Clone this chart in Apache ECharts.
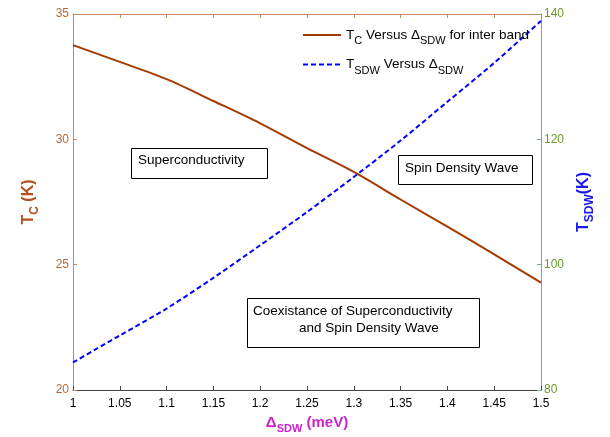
<!DOCTYPE html>
<html>
<head>
<meta charset="utf-8">
<script src="https://cdn.jsdelivr.net/npm/echarts@6/dist/echarts.min.js"></script>
<style>
  html, body { margin: 0; padding: 0; background: #fff; }
  #main { width: 610px; height: 437px; }
</style>
</head>
<body>
<div id="main"></div>
<script>
// Delta_SDW (meV)
const deltaSdw = [1.0, 1.05, 1.1, 1.15, 1.2, 1.25, 1.3, 1.35, 1.4, 1.45, 1.5];
// Tc (K), left axis
const tcValues = [33.76, 33.09, 32.40, 31.53, 30.64, 29.65, 28.70, 27.60, 26.52, 25.41, 24.28];
// T_SDW (K), right axis
const tsdwValues = [84.4, 88.7, 93.0, 97.9, 103.1, 108.4, 114.0, 119.8, 126.0, 132.2, 138.9];

const font = 'Liberation Sans, Arial, sans-serif';
const brownLine = '#c8875f';
const brownText = '#b86a3a';
const greenLine = '#72b072';
const greenText = '#6a9a2c';

function pairs(xs, ys) {
  return xs.map((x, i) => [x, ys[i]]);
}

let chart = echarts.init(document.getElementById('main'), null, { renderer: 'canvas' });

let subRich = (color, size, subSize, weight, drop) => ({
  n: { fontFamily: font, fontSize: size, fontWeight: weight, color: color },
  s: { fontFamily: font, fontSize: subSize, fontWeight: weight, color: color, padding: [drop, 0, 0, 0] }
});

let options = {
  animation: false,
  textStyle: { fontFamily: font },
  grid: { left: 73, right: 69, top: 14, bottom: 47, containLabel: false, outerBoundsMode: 'none' },
  legend: {
    orient: 'vertical',
    left: 297,
    top: 23,
    itemWidth: 38,
    itemHeight: 14,
    itemGap: 11,
    data: ['tc', 'tsdw'],
    itemStyle: { opacity: 0 },
    formatter: function (name) {
      if (name === 'tc') {
        return '{n|T}{s|C}{n| Versus Δ}{s|SDW}{n| for inter band}';
      }
      return '{n|T}{s|SDW}{n| Versus Δ}{s|SDW}';
    },
    textStyle: {
      rich: subRich('#000', 13.5, 11, 'normal', 12)
    }
  },
  xAxis: [
    {
      type: 'value',
      min: 1,
      max: 1.5,
      interval: 0.05,
      position: 'bottom',
      name: '{n|Δ}{s|SDW}{n| (meV)}',
      nameLocation: 'middle',
      nameGap: 21,
      nameTextStyle: { rich: subRich('#cc22cc', 15, 11, 'bold', 12) },
      axisLine: { lineStyle: { color: '#444', width: 1 } },
      axisTick: { inside: true, length: 4, lineStyle: { color: '#444' } },
      axisLabel: { color: '#000', fontSize: 12, fontFamily: font, margin: 8 },
      splitLine: { show: false }
    },
    {
      type: 'value',
      min: 1,
      max: 1.5,
      interval: 0.05,
      position: 'top',
      axisLine: { lineStyle: { color: brownLine, width: 1 } },
      axisTick: { inside: true, length: 4, lineStyle: { color: brownLine } },
      axisLabel: { show: false },
      splitLine: { show: false }
    }
  ],
  yAxis: [
    {
      type: 'value',
      min: 20,
      max: 35,
      interval: 5,
      position: 'left',
      name: '{n|T}{s|C}{n| (K)}',
      nameLocation: 'middle',
      nameRotate: 90,
      nameGap: 32,
      nameTextStyle: { rich: subRich('#b4501c', 16, 12, 'bold', 13) },
      axisLine: { show: true, lineStyle: { color: brownLine, width: 1 } },
      axisTick: { show: true, inside: true, length: 4, lineStyle: { color: brownLine } },
      axisLabel: { color: brownText, fontSize: 12, fontFamily: font, margin: 4 },
      splitLine: { show: false }
    },
    {
      type: 'value',
      min: 80,
      max: 140,
      interval: 20,
      position: 'right',
      name: '{n|T}{s|SDW}{n|(K)}',
      nameLocation: 'middle',
      nameRotate: 90,
      nameGap: 30,
      nameTextStyle: { rich: subRich('#1a1aee', 16, 12, 'bold', 13) },
      axisLine: { show: true, lineStyle: { color: greenLine, width: 1 } },
      axisTick: { show: true, inside: true, length: 4, lineStyle: { color: greenLine } },
      axisLabel: { color: greenText, fontSize: 12, fontFamily: font, margin: 3 },
      splitLine: { show: false }
    }
  ],
  series: [
    {
      name: 'tc',
      type: 'line',
      xAxisIndex: 0,
      yAxisIndex: 0,
      data: pairs(deltaSdw, tcValues),
      symbol: 'none',
      smooth: 0.3,
      lineStyle: { color: '#a33b00', width: 2 },
      itemStyle: { color: '#a33b00' }
    },
    {
      name: 'tsdw',
      type: 'line',
      xAxisIndex: 0,
      yAxisIndex: 1,
      data: pairs(deltaSdw, tsdwValues),
      symbol: 'none',
      smooth: 0.3,
      lineStyle: { color: '#0000ff', width: 2, type: [5, 3] },
      itemStyle: { color: '#0000ff' }
    }
  ],
  graphic: [
    {
      type: 'rect', left: 131, top: 148, z: 100,
      shape: { width: 136, height: 30 },
      style: { fill: '#fff', stroke: '#000', lineWidth: 1 }
    },
    {
      type: 'text', left: 138, top: 153, z: 101,
      style: { text: 'Superconductivity', fill: '#000', font: '13.5px ' + font }
    },
    {
      type: 'rect', left: 398, top: 155, z: 100,
      shape: { width: 134, height: 29 },
      style: { fill: '#fff', stroke: '#000', lineWidth: 1 }
    },
    {
      type: 'text', left: 405, top: 161, z: 101,
      style: { text: 'Spin Density Wave', fill: '#000', font: '13.5px ' + font }
    },
    {
      type: 'rect', left: 247, top: 298, z: 100,
      shape: { width: 232, height: 49 },
      style: { fill: '#fff', stroke: '#000', lineWidth: 1 }
    },
    {
      type: 'text', left: 253, top: 304, z: 101,
      style: { text: 'Coexistance of Superconductivity', fill: '#000', font: '13.5px ' + font }
    },
    {
      type: 'text', left: 299, top: 321, z: 101,
      style: { text: 'and Spin Density Wave', fill: '#000', font: '13.5px ' + font }
    }
  ]
};

chart.setOption(options);
</script>
</body>
</html>
